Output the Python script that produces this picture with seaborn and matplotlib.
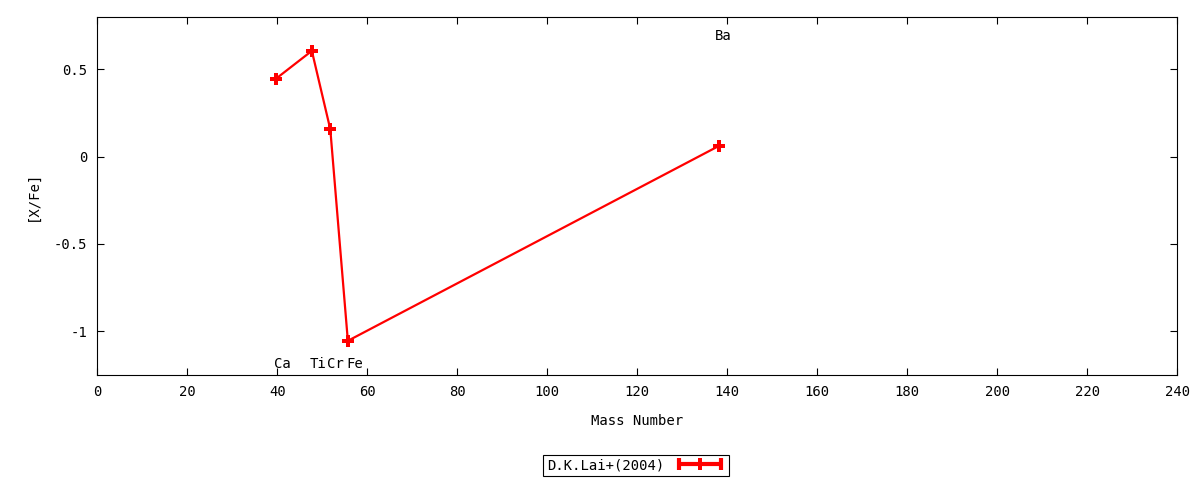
import numpy as np
import pandas as pd
import seaborn as sns
import matplotlib.pyplot as plt
from matplotlib.lines import Line2D
from matplotlib.legend_handler import HandlerLine2D, HandlerTuple

# abundance data
elements = ['Ca', 'Ti', 'Cr', 'Fe', 'Ba']
mass_number = [39.7, 47.7, 51.8, 55.7, 138.1]
x_fe = [0.445, 0.605, 0.156, -1.055, 0.06]
label_x = [39.3, 47.3, 51.1, 55.3, 137.3]
label_y = [-1.19, -1.19, -1.19, -1.19, 0.69]
series_name = 'D.K.Lai+(2004)'

df = pd.DataFrame({'Mass Number': mass_number, '[X/Fe]': x_fe, 'Element': elements})

sns.set_style('ticks')
plt.rcParams['font.family'] = ['DejaVu Sans Mono', 'DejaVu Sans']
plt.rcParams['font.size'] = 10
plt.rcParams['text.color'] = 'black'
plt.rcParams['axes.labelcolor'] = 'black'
plt.rcParams['xtick.color'] = 'black'
plt.rcParams['ytick.color'] = 'black'

fig = plt.figure(figsize=(12, 4.8), dpi=100)
ax = fig.add_axes([0.081, 0.219, 0.9, 0.746])

sns.lineplot(data=df, x='Mass Number', y='[X/Fe]', ax=ax, sort=False,
             color='red', linewidth=1.6, marker='P', markersize=8,
             markeredgewidth=0, legend=False)

for el, lx, ly in zip(elements, label_x, label_y):
    ax.text(lx, ly, el, ha='left', va='center', fontsize=10)

ax.set_xlim(0, 240)
ax.set_ylim(-1.25, 0.8)
ax.set_xticks(np.arange(0, 241, 20))
ax.set_yticks([-1, -0.5, 0, 0.5])
ax.set_yticklabels(['-1', '-0.5', '0', '0.5'])
ax.tick_params(direction='in', top=True, right=True, length=5, width=0.8,
               labelsize=10, pad=7)
for s in ax.spines.values():
    s.set_linewidth(0.8)
    s.set_color('black')
ax.set_xlabel('Mass Number', labelpad=11)
ax.set_ylabel('[X/Fe]', labelpad=10)

# legend sample: thick line, bar caps at the ends, plus marker in the middle
ends = Line2D([], [], color='red', linewidth=3, marker='|', markersize=9,
              markeredgewidth=3)
mid = Line2D([], [], color='red', linewidth=0, marker='P', markersize=8,
             markeredgewidth=0)
leg = fig.legend([(ends, mid)], [series_name], loc='center',
                 bbox_to_anchor=(0.53, 0.031), markerfirst=False,
                 handler_map={tuple: HandlerTuple(ndivide=1),
                              ends: HandlerLine2D(numpoints=2),
                              mid: HandlerLine2D(numpoints=1)},
                 fancybox=False, framealpha=1, edgecolor='black',
                 handlelength=3.6, borderpad=0.25, borderaxespad=0.3,
                 handletextpad=0.8, fontsize=10)
leg.get_frame().set_linewidth(0.8)

fig.savefig('out.png', dpi=100)
